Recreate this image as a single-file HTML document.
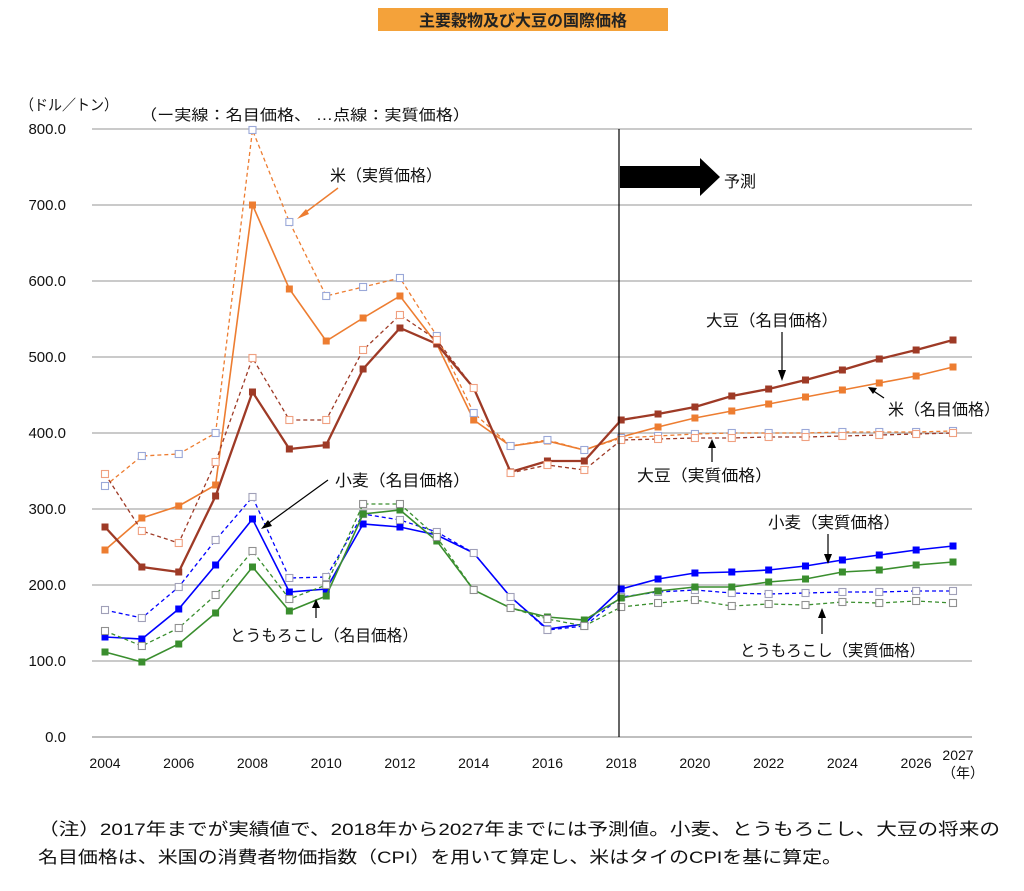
<!DOCTYPE html>
<html><head><meta charset="utf-8">
<style>
html,body{margin:0;padding:0;background:#fff;}
body{width:1024px;height:886px;overflow:hidden;font-family:"Liberation Sans","Noto Sans CJK JP",sans-serif;}
svg text{font-family:"Liberation Sans","Noto Sans CJK JP",sans-serif;}
</style></head>
<body>
<svg id="c" width="1024" height="886" xmlns="http://www.w3.org/2000/svg">
<rect x="378" y="8" width="290" height="23" fill="#F4A23A"/>
<text x="523" y="26" font-size="16" font-weight="bold" text-anchor="middle" fill="#222">主要穀物及び大豆の国際価格</text>
<text x="20" y="110" font-size="15" fill="#111" textLength="98" lengthAdjust="spacingAndGlyphs">（ドル／トン）</text>
<text x="140" y="120" font-size="15" fill="#111" textLength="330" lengthAdjust="spacingAndGlyphs">（ー実線：名目価格、 …点線：実質価格）</text>
<g id="grid"></g>
<g id="series"></g>
<line x1="619" y1="129" x2="619" y2="737" stroke="#000" stroke-width="1.2"/>
<polygon points="620,166 700,166 700,158 720,177 700,196 700,188 620,188" fill="#000"/>
<text x="724" y="187" font-size="16" fill="#111">予測</text>
<text x="330" y="181" font-size="16" fill="#111" textLength="112" lengthAdjust="spacingAndGlyphs">米（実質価格）</text>
<line x1="338" y1="188" x2="302" y2="215" stroke="#ED7D31" stroke-width="1.5"/>
<polygon points="297,219 306,209 309,214" fill="#ED7D31"/>
<text x="706" y="326" font-size="16" fill="#111" textLength="132" lengthAdjust="spacingAndGlyphs">大豆（名目価格）</text>
<line x1="782" y1="332" x2="782" y2="372" stroke="#000" stroke-width="1.2"/>
<polygon points="778,370 786,370 782,381" fill="#000"/>
<text x="888" y="415" font-size="16" fill="#111" textLength="112" lengthAdjust="spacingAndGlyphs">米（名目価格）</text>
<line x1="884" y1="398" x2="872" y2="390" stroke="#000" stroke-width="1.2"/>
<polygon points="868,387 877,388 873,394" fill="#000"/>
<text x="637" y="481" font-size="16" fill="#111" textLength="135" lengthAdjust="spacingAndGlyphs">大豆（実質価格）</text>
<line x1="712" y1="462" x2="712" y2="446" stroke="#000" stroke-width="1.2"/>
<polygon points="708,448 716,448 712,439" fill="#000"/>
<text x="335" y="486" font-size="16" fill="#111" textLength="135" lengthAdjust="spacingAndGlyphs">小麦（名目価格）</text>
<line x1="328" y1="480" x2="266" y2="525" stroke="#000" stroke-width="1.2"/>
<polygon points="261,529 268,520 272,526" fill="#000"/>
<text x="230" y="641" font-size="16" fill="#111" textLength="188" lengthAdjust="spacingAndGlyphs">とうもろこし（名目価格）</text>
<line x1="316" y1="618" x2="316" y2="606" stroke="#000" stroke-width="1.2"/>
<polygon points="312,608 320,608 316,599" fill="#000"/>
<text x="768" y="528" font-size="16" fill="#111" textLength="132" lengthAdjust="spacingAndGlyphs">小麦（実質価格）</text>
<line x1="828" y1="534" x2="828" y2="556" stroke="#000" stroke-width="1.2"/>
<polygon points="824,554 832,554 828,564" fill="#000"/>
<text x="740" y="656" font-size="16" fill="#111" textLength="185" lengthAdjust="spacingAndGlyphs">とうもろこし（実質価格）</text>
<line x1="822" y1="634" x2="822" y2="616" stroke="#000" stroke-width="1.2"/>
<polygon points="818,618 826,618 822,608" fill="#000"/>
<text x="958" y="760" font-size="14" text-anchor="middle" fill="#111">2027</text>
<text x="963" y="778" font-size="14" text-anchor="middle" fill="#111">（年）</text>
<text x="38" y="835" font-size="17" fill="#111" textLength="962" lengthAdjust="spacingAndGlyphs">（注）2017年までが実績値で、2018年から2027年までには予測値。小麦、とうもろこし、大豆の将来の</text>
<text x="38" y="863" font-size="17" fill="#111" textLength="804" lengthAdjust="spacingAndGlyphs">名目価格は、米国の消費者物価指数（CPI）を用いて算定し、米はタイのCPIを基に算定。</text>
</svg>
<script>
var NS="http://www.w3.org/2000/svg";
function el(p,t,a,txt){var e=document.createElementNS(NS,t);for(var k in a)e.setAttribute(k,a[k]);if(txt!==undefined)e.textContent=txt;p.appendChild(e);return e;}
var g=document.getElementById('grid');
for(var i=0;i<=8;i++){var y=737-i*76;
 el(g,'line',{x1:92,y1:y,x2:972,y2:y,stroke:i==0?'#999':'#aaa','stroke-width':1.3});
 el(g,'text',{x:66,y:y+5,'font-size':15,'text-anchor':'end',fill:'#111'},(i*100).toFixed(1));}
for(var yr=2004;yr<=2026;yr+=2){el(g,'text',{x:105+(yr-2004)*36.87,y:768,'font-size':14,'text-anchor':'middle',fill:'#111'},yr);}
function X(i){return 105+i*36.87;}
var S=[
 {c:'#ED7D31',d:0,m:'#ED7D31',f:1,w:1.6,y:[550,518,506,485,205,289,341,318,296,344,420,446,441,450,437,427,418,411,404,397,390,383,376,367]},
 {c:'#ED7D31',d:1,m:'#9aa8d8',f:0,w:1.3,y:[486,456,454,433,130,222,296,287,278,336,413,446,440,450,438,436,434,433,433,433,432,432,432,431]},
 {c:'#9E3A26',d:0,m:'#9E3A26',f:1,w:2.3,y:[527,567,572,496,392,449,445,369,328,344,388,472,461,461,420,414,407,396,389,380,370,359,350,340]},
 {c:'#9E3A26',d:1,m:'#F0A080',f:0,w:1.3,y:[474,531,543,462,358,420,420,350,315,340,388,473,465,470,440,439,438,438,437,437,436,435,434,433]},
 {c:'#0000FF',d:0,m:'#0000FF',f:1,w:1.6,y:[637,639,609,565,519,592,589,524,527,535,553,597,629,624,589,579,573,572,570,566,560,555,550,546]},
 {c:'#0000FF',d:1,m:'#a0a0b8',f:0,w:1.3,y:[610,618,587,540,497,578,577,514,520,532,553,597,630,626,597,592,590,593,594,593,592,592,591,591]},
 {c:'#3A8E2E',d:0,m:'#3A8E2E',f:1,w:1.6,y:[652,662,644,613,567,611,596,514,510,541,590,608,617,620,598,591,587,587,582,579,572,570,565,562]},
 {c:'#3A8E2E',d:1,m:'#909090',f:0,w:1.3,y:[631,646,628,595,551,599,585,504,504,537,590,608,619,626,607,603,600,606,604,605,602,603,601,603]}
];
var sg=document.getElementById('series');
S.forEach(function(s){
 var pts=s.y.map(function(v,i){return X(i).toFixed(1)+','+v;}).join(' ');
 var a={points:pts,fill:'none',stroke:s.c,'stroke-width':s.w};
 if(s.d)a['stroke-dasharray']='4,3';
 el(sg,'polyline',a);
 s.y.forEach(function(v,i){
  if(s.f)el(sg,'rect',{x:X(i)-3.5,y:v-3.5,width:7,height:7,fill:s.m});
  else el(sg,'rect',{x:X(i)-3.5,y:v-3.5,width:7,height:7,fill:'#fff',stroke:s.m,'stroke-width':1.1});
 });
});
</script>
</body></html>
